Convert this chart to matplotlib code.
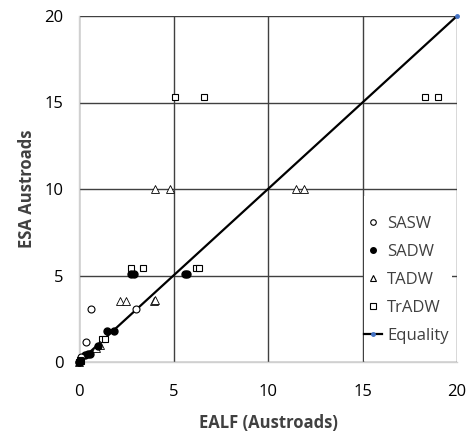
import matplotlib
matplotlib.use("Agg")
import matplotlib.pyplot as plt
from matplotlib.patches import Rectangle
from matplotlib.lines import Line2D

plt.rcParams['font.family'] = ['Open Sans', 'DejaVu Sans']

sasw_x = [0.0, 0.1, 0.37, 0.63, 3.0]
sasw_y = [0.0, 0.3, 1.16, 3.06, 3.06]

sadw_x = [0.0, 0.05, 0.3, 0.5, 0.6, 1.0, 1.5, 1.85, 2.75, 2.9, 5.6, 5.7]
sadw_y = [0.0, 0.05, 0.4, 0.45, 0.45, 0.9, 1.8, 1.8, 5.1, 5.1, 5.1, 5.1]

tadw_x = [0.0, 0.9, 1.1, 2.15, 2.5, 3.95, 4.0, 4.0, 4.8, 11.5, 11.9]
tadw_y = [0.0, 0.8, 1.0, 3.5, 3.5, 3.5, 3.6, 10.0, 10.0, 10.0, 10.0]

tradw_x = [0.0, 0.05, 0.1, 1.2, 1.4, 2.75, 3.4, 6.2, 6.35, 5.1, 6.6, 18.3, 19.0]
tradw_y = [0.0, 0.1, 0.05, 1.35, 1.35, 5.43, 5.43, 5.43, 5.43, 15.3, 15.3, 15.3, 15.3]

eq_x = [0, 20]
eq_y = [0, 20]

ticks = [0, 5, 10, 15, 20]

fig = plt.figure(figsize=(4.74, 4.34), dpi=100)
ax = fig.add_axes([79/474, 1-362/434, (457-79)/474, (362-16)/434])

ax.set_xlim(0, 20)
ax.set_ylim(0, 20)
ax.set_xticks(ticks)
ax.set_yticks(ticks)
ax.set_axisbelow(True)
ax.grid(True, color='#404040', linewidth=1.0, zorder=0.5)
for s in ['top', 'right']:
    ax.spines[s].set_visible(False)
for s in ['left', 'bottom']:
    ax.spines[s].set_color('#d0d0d0')
    ax.spines[s].set_linewidth(1.0)
ax.tick_params(length=0, labelsize=12, colors='#000000', pad=11)
ax.tick_params(axis='x', pad=16)

# white region behind legend
ax.add_patch(Rectangle((15.08, 0.05), 4.65, 9.55, facecolor='white',
                       edgecolor='none', zorder=1))

ax.plot(eq_x, eq_y, color='black', linewidth=1.6, zorder=2)
ax.plot(eq_x[-1:], eq_y[-1:], 'o', color='#4472C4', markersize=2.5, zorder=6,
        clip_on=False)

ms = 5
ax.plot(tradw_x[3:], tradw_y[3:], 's', mfc='white', mec='black', mew=0.8, ms=ms, zorder=3,
        clip_on=False)
ax.plot(tadw_x, tadw_y, '^', mfc='white', mec='black', mew=0.6, ms=ms+0.5, zorder=4,
        clip_on=False)
ax.plot(sadw_x, sadw_y, 'o', mfc='black', mec='black', ms=ms, zorder=5, clip_on=False)
ax.plot(sasw_x, sasw_y, 'o', mfc='white', mec='black', mew=0.8, ms=ms, zorder=5,
        clip_on=False)
# overlapping squares at the origin form a solid blob
ax.plot(tradw_x[:3], tradw_y[:3], 's', mfc='black', mec='black', mew=0.8, ms=ms,
        zorder=6, clip_on=False)

handles = [
    Line2D([], [], ls='none', marker='o', mfc='white', mec='black', mew=0.8, ms=4),
    Line2D([], [], ls='none', marker='o', mfc='black', mec='black', ms=4),
    Line2D([], [], ls='none', marker='^', mfc='white', mec='black', mew=0.8, ms=4),
    Line2D([], [], ls='none', marker='s', mfc='white', mec='black', mew=0.8, ms=4),
    Line2D([], [], color='black', lw=1.6, marker='o', mfc='#4472C4', mec='#4472C4',
           ms=2.5, markevery=[1]),
]
labels = ['SASW', 'SADW', 'TADW', 'TrADW', 'Equality']
leg = ax.legend(handles, labels, loc='upper left',
                bbox_to_anchor=(0.745, 0.432), frameon=False, fontsize=12,
                handlelength=1.1, handletextpad=0.3, labelspacing=0.72,
                borderpad=0.2, borderaxespad=0.0, labelcolor='#404040')
leg.set_zorder(10)

ax.set_xlabel('EALF (Austroads)', fontsize=12, fontweight='bold', color='#404040',
              labelpad=10)
ax.set_ylabel('ESA Austroads', fontsize=12, fontweight='bold', color='#404040',
              labelpad=6)

fig.savefig('out.png', dpi=100)
